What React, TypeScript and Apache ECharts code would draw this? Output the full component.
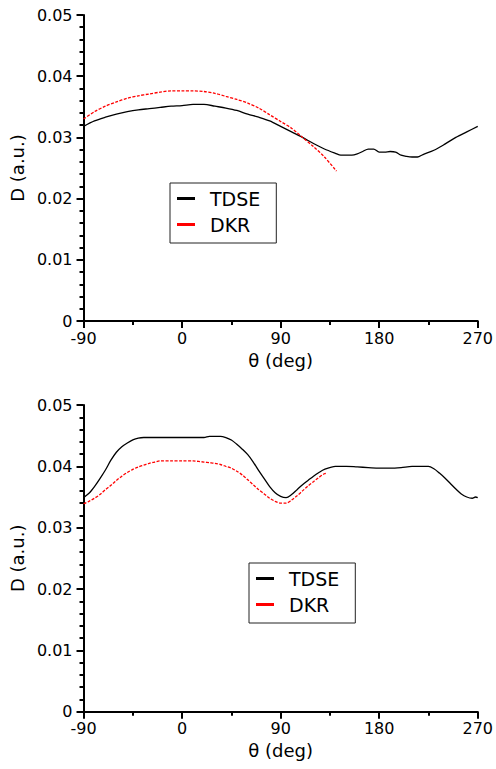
import React, { useEffect, useRef } from "react";
import * as echarts from "echarts";

// ---- Top panel data ----
const thetaTdseTop = [-90, -80, -70, -60, -50, -40, -30, -20, -10, 0, 10, 20, 30, 40, 50, 60, 70, 80, 90, 100, 110, 120, 130, 140, 145, 150, 155, 160, 165, 170, 175, 180, 185, 190, 195, 200, 205, 210, 215, 220, 230, 240, 250, 260, 270];
const tdseTop = [0.0318, 0.0327, 0.0333, 0.0338, 0.0342, 0.0345, 0.0347, 0.0349, 0.0351, 0.0352, 0.0354, 0.0354, 0.0351, 0.0348, 0.0344, 0.0338, 0.0333, 0.0327, 0.0318, 0.0309, 0.0300, 0.0290, 0.0281, 0.0274, 0.0271, 0.0271, 0.0271, 0.0273, 0.0277, 0.0281, 0.0281, 0.0276, 0.0276, 0.0277, 0.0276, 0.0271, 0.0269, 0.0268, 0.0268, 0.0272, 0.0279, 0.0289, 0.0300, 0.0309, 0.0318];

const thetaDkrTop = [-90, -80, -70, -60, -50, -40, -30, -20, -10, 0, 10, 20, 30, 40, 50, 60, 70, 80, 90, 100, 110, 120, 130, 141];
const dkrTop = [0.0330, 0.0342, 0.0351, 0.0358, 0.0364, 0.0368, 0.0371, 0.0374, 0.0376, 0.0376, 0.0376, 0.0375, 0.0372, 0.0367, 0.0362, 0.0356, 0.0348, 0.0337, 0.0326, 0.0315, 0.0300, 0.0285, 0.0268, 0.0245];

// ---- Bottom panel data ----
const thetaTdseBot = [-90, -85, -80, -75, -70, -65, -60, -55, -50, -45, -40, -35, -30, 0, 20, 25, 30, 35, 40, 45, 50, 55, 60, 65, 70, 75, 80, 85, 90, 95, 100, 105, 110, 115, 120, 125, 130, 140, 150, 160, 170, 180, 190, 200, 210, 220, 225, 230, 235, 240, 245, 250, 255, 260, 265, 268, 270];
const tdseBot = [0.0349, 0.0356, 0.0367, 0.0380, 0.0394, 0.0410, 0.0423, 0.0432, 0.0438, 0.0443, 0.0446, 0.0447, 0.0447, 0.0447, 0.0447, 0.0449, 0.0449, 0.0449, 0.0447, 0.0443, 0.0436, 0.0428, 0.0419, 0.0407, 0.0393, 0.0380, 0.0367, 0.0357, 0.0351, 0.0349, 0.0354, 0.0362, 0.0370, 0.0377, 0.0384, 0.0390, 0.0395, 0.0400, 0.0400, 0.0399, 0.0398, 0.0397, 0.0397, 0.0398, 0.0400, 0.0400, 0.0400, 0.0396, 0.0389, 0.0381, 0.0372, 0.0363, 0.0355, 0.0350, 0.0348, 0.0350, 0.0349];

const thetaDkrBot = [-90, -85, -80, -75, -70, -65, -60, -55, -50, -45, -40, -35, -30, -25, -20, -10, 0, 10, 15, 20, 25, 30, 35, 40, 45, 50, 55, 60, 65, 70, 75, 80, 85, 90, 95, 100, 105, 110, 115, 120, 125, 130, 132];
const dkrBot = [0.0339, 0.0343, 0.0348, 0.0354, 0.0362, 0.0369, 0.0377, 0.0384, 0.0390, 0.0395, 0.0399, 0.0402, 0.0405, 0.0407, 0.0409, 0.0409, 0.0409, 0.0409, 0.0408, 0.0407, 0.0406, 0.0405, 0.0403, 0.0400, 0.0397, 0.0392, 0.0386, 0.0378, 0.0370, 0.0362, 0.0355, 0.0348, 0.0343, 0.0340, 0.0340, 0.0345, 0.0352, 0.0360, 0.0368, 0.0375, 0.0382, 0.0388, 0.0389];

const seriesNames = ["TDSE", "DKR"];
const xTicks = [-90, 0, 90, 180, 270];

const zip = (xs: number[], ys: number[]) => xs.map((x, i) => [x, ys[i]]);

const FONT = "DejaVu Sans";

function makeX(gridIndex: number) {
  return {
    type: "value",
    gridIndex,
    min: xTicks[0],
    max: xTicks[xTicks.length - 1],
    interval: 90,
    name: "θ (deg)",
    nameLocation: "middle",
    nameGap: 30,
    nameTextStyle: { fontSize: 18, color: "#000", fontFamily: FONT },
    axisLine: { show: true, onZero: false, lineStyle: { color: "#000", width: 2 } },
    axisTick: { show: true, inside: false, length: 7, lineStyle: { color: "#000", width: 2 } },
    minorTick: { show: true, splitNumber: 2, length: 4, lineStyle: { color: "#000", width: 2 } },
    axisLabel: { fontSize: 16, color: "#000", fontFamily: FONT, margin: 9 },
    splitLine: { show: false },
  };
}

function makeY(gridIndex: number) {
  return {
    type: "value",
    gridIndex,
    min: 0,
    max: 0.05,
    interval: 0.01,
    name: "D (a.u.)",
    nameLocation: "middle",
    nameGap: 52,
    nameTextStyle: { fontSize: 18, color: "#000", fontFamily: FONT },
    axisLine: { show: true, onZero: false, lineStyle: { color: "#000", width: 2 } },
    axisTick: { show: true, inside: false, length: 7, lineStyle: { color: "#000", width: 2 } },
    minorTick: { show: true, splitNumber: 5, length: 4, lineStyle: { color: "#000", width: 2 } },
    axisLabel: {
      fontSize: 16,
      color: "#000",
      fontFamily: FONT,
      margin: 11,
      formatter: (v: number) => (v === 0 ? "0" : v.toFixed(2)),
    },
    splitLine: { show: false },
  };
}

function makeLegend(left: number, top: number) {
  return {
    left,
    top,
    orient: "vertical",
    padding: [6, 16, 9, 7],
    borderColor: "#222",
    borderWidth: 1,
    itemWidth: 18,
    itemHeight: 3,
    itemGap: 7,
    icon: "rect",
    selectedMode: false,
    textStyle: { fontSize: 19, color: "#000", fontFamily: FONT, padding: [0, 0, 0, 10] },
    data: seriesNames,
  };
}

export default function App() {
  const ref = useRef<HTMLDivElement>(null);
  useEffect(() => {
    if (!ref.current) return;
    const chart = echarts.init(ref.current, undefined, { renderer: "svg" });
    const line = (name: string, idx: number, data: number[][], color: string, dashed: boolean) => ({
      type: "line",
      name,
      xAxisIndex: idx,
      yAxisIndex: idx,
      data,
      showSymbol: false,
      symbol: "none",
      smooth: 0.3,
      color,
      lineStyle: { color, width: 1.3, type: dashed ? [3, 1.5] : "solid" },
      z: dashed ? 3 : 2,
    });
    chart.setOption({
      animation: false,
      backgroundColor: "#fff",
      grid: [
        { left: 82, right: 16, top: 15, height: 306 },
        { left: 82, right: 16, top: 405, height: 306.7 },
      ],
      xAxis: [makeX(0), makeX(1)],
      yAxis: [makeY(0), makeY(1)],
      legend: [makeLegend(170, 183), makeLegend(249, 563)],
      series: [
        line(seriesNames[0], 0, zip(thetaTdseTop, tdseTop), "#000", false),
        line(seriesNames[1], 0, zip(thetaDkrTop, dkrTop), "#ff0000", true),
        line(seriesNames[0], 1, zip(thetaTdseBot, tdseBot), "#000", false),
        line(seriesNames[1], 1, zip(thetaDkrBot, dkrBot), "#ff0000", true),
      ],
    });
    return () => chart.dispose();
  }, []);
  return (
    <div
      ref={ref}
      style={{ position: "fixed", left: 0, top: 0, width: 496, height: 769, background: "#fff" }}
    />
  );
}
